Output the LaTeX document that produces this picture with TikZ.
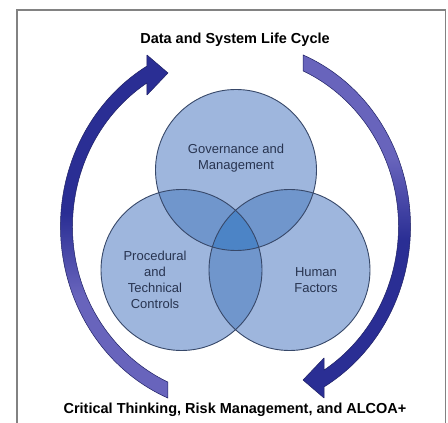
\documentclass[tikz,border=0pt]{standalone}
\usepackage{fontspec}
\setmainfont{Liberation Sans}
\definecolor{framegray}{RGB}{130,130,130}
\definecolor{navy}{RGB}{42,46,148}
\definecolor{peri}{RGB}{104,100,188}
\definecolor{arrowedge}{RGB}{30,32,100}
\definecolor{vennA}{RGB}{158,182,221}
\definecolor{vennB}{RGB}{112,150,204}
\definecolor{vennC}{RGB}{76,132,198}
\definecolor{ringline}{RGB}{55,72,105}
\definecolor{venntxt}{RGB}{40,52,80}
% colour runs along the arrow body: light at the tail, dark at the head
\pgfdeclareverticalshading{arrowup}{100bp}{color(0bp)=(peri); color(40bp)=(peri); color(52bp)=(navy); color(100bp)=(navy)}
\pgfdeclareverticalshading{arrowdown}{100bp}{color(0bp)=(navy); color(48bp)=(navy); color(60bp)=(peri); color(100bp)=(peri)}
\newcommand\vennr{80.5}
\begin{document}
\begin{tikzpicture}[x=1pt,y=1pt,
  venntext/.style={font=\fontsize{13}{16}\selectfont, text=venntxt, align=center, inner sep=0pt},
  headline/.style={font=\bfseries\fontsize{14.5}{17}\selectfont, text=black, inner sep=0pt, anchor=base},
  ring/.style={draw=ringline, line width=0.9pt},
  cyclearrow/.style={draw=arrowedge, line width=0.5pt, line join=round}]
\useasboundingbox (0,0) rectangle (448,423);
\fill[white] (0,0) rectangle (448,423);
% outer frame (open at the bottom edge)
\draw[framegray, line width=1.8pt] (17,0) -- (17,413) -- (445.5,413) -- (445.5,0);

% curved cycle arrows around the centre of the diagram
\begin{scope}[shift={(235.5,196.5)}]
  \path[cyclearrow, shading=arrowup]
    (247.3:175 and 186) arc[start angle=247.3, end angle=120.4, x radius=175, y radius=186]
    -- (-88.5,171.5) -- (-67.5,153.5) -- (-88.5,131.5)
    -- (122.9:163 and 171) arc[start angle=122.9, end angle=245.5, x radius=163, y radius=171]
    -- cycle;
  \path[cyclearrow, shading=arrowdown]
    (67.3:175 and 186) arc[start angle=67.3, end angle=-59.6, x radius=175, y radius=186]
    -- (88.5,-171.5) -- (67.5,-153.5) -- (88.5,-131.5)
    -- (-57.1:163 and 171) arc[start angle=-57.1, end angle=65.5, x radius=163, y radius=171]
    -- cycle;
\end{scope}

% three overlapping circles
\coordinate (ct) at (236,253);
\coordinate (cl) at (181.5,153);
\coordinate (cr) at (289.5,153);
\fill[vennA] (ct) circle (\vennr);
\fill[vennA] (cl) circle (\vennr);
\fill[vennA] (cr) circle (\vennr);
\begin{scope}
  \clip (ct) circle (\vennr);
  \fill[vennB] (cl) circle (\vennr);
  \fill[vennB] (cr) circle (\vennr);
\end{scope}
\begin{scope}
  \clip (cl) circle (\vennr);
  \fill[vennB] (cr) circle (\vennr);
\end{scope}
\begin{scope}
  \clip (ct) circle (\vennr);
  \clip (cl) circle (\vennr);
  \fill[vennC] (cr) circle (\vennr);
\end{scope}
\draw[ring] (ct) circle (\vennr);
\draw[ring] (cl) circle (\vennr);
\draw[ring] (cr) circle (\vennr);

% labels
\node[venntext] (gov) at (236,264.5) {Governance and\\Management};
\node[venntext] (proc) at (155,143) {Procedural\\and\\Technical\\Controls};
\node[venntext] (human) at (316,143) {Human\\Factors};
\node[headline] (life) at (235,379) {Data and System Life Cycle};
\node[headline] (crit) at (235,9) {Critical Thinking, Risk Management, and ALCOA+};
\end{tikzpicture}
\end{document}
